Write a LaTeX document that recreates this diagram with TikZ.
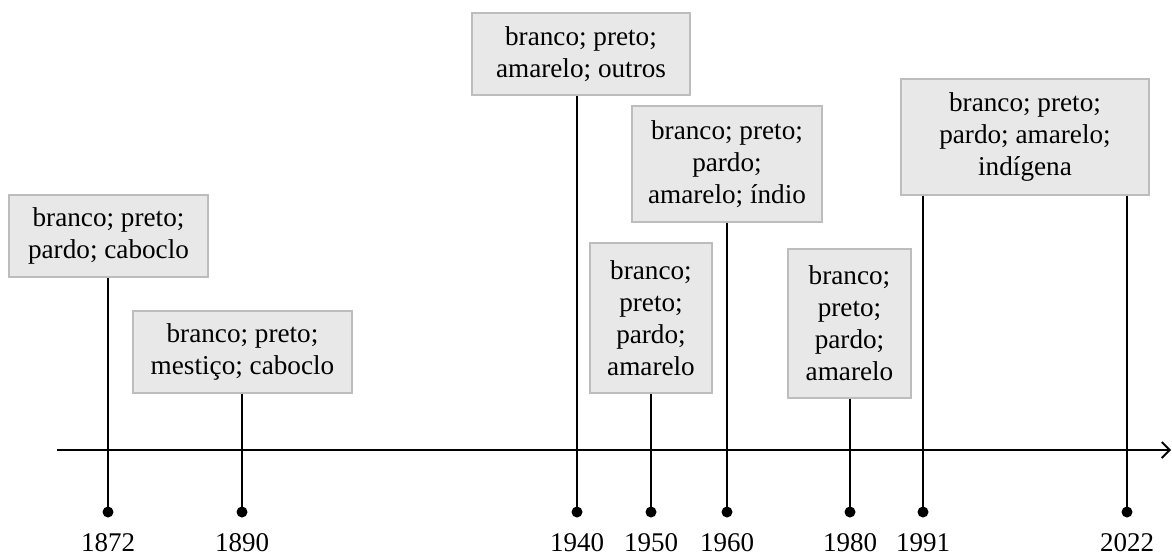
\documentclass[tikz,border=0pt]{standalone}
\usepackage{fontspec}
\setmainfont{Liberation Serif}
\usetikzlibrary{arrows.meta}
\definecolor{boxfill}{HTML}{E8E8E8}
\definecolor{boxline}{HTML}{BDBDBD}
\begin{document}
\begin{tikzpicture}[x=0.5pt,y=-0.5pt,
  catbox/.style={draw=boxline,fill=boxfill,line width=0.6pt,inner sep=0pt,
    align=center,font=\fontsize{13.6}{16}\selectfont},
  stem/.style={line width=1.4pt},
  axisline/.style={line width=1.4pt,-{Straight Barb[length=4pt,width=8pt,line width=0.9pt]}},
  yeardot/.style={circle,fill=black,inner sep=0pt,minimum size=5.5pt},
  yearlbl/.style={anchor=base,font=\fontsize{13.5}{16}\selectfont,inner sep=0pt}]
\useasboundingbox (0,0) rectangle (1172,554);
% boxes
\node[catbox,minimum width=99.5pt,minimum height=41pt] (A) at (108.5,236) {branco; preto;\\pardo; caboclo};
\node[catbox,minimum width=109.5pt,minimum height=41pt] (B) at (242.5,352) {branco; preto;\\mestiço; caboclo};
\node[catbox,minimum width=109pt,minimum height=41pt] (C) at (581,54) {branco; preto;\\amarelo; outros};
\node[catbox,minimum width=61pt,minimum height=75pt] (D) at (651,318) {branco;\\preto;\\pardo;\\amarelo};
\node[catbox,minimum width=95pt,minimum height=58pt] (E) at (727,164) {branco; preto;\\pardo;\\amarelo; índio};
\node[catbox,minimum width=61.5pt,minimum height=74.5pt] (F) at (849.5,323.5) {branco;\\preto;\\pardo;\\amarelo};
\node[catbox,minimum width=124pt,minimum height=58pt] (G) at (1025,137) {branco; preto;\\pardo; amarelo;\\indígena};
% axis
\coordinate (ax0) at (57,450);
\coordinate (ax1) at (1171,450);
\draw[axisline] (ax0) -- (ax1);
% dots
\node[yeardot] (d1) at (108,512) {};
\node[yeardot] (d2) at (242,512) {};
\node[yeardot] (d3) at (577,512) {};
\node[yeardot] (d4) at (651,512) {};
\node[yeardot] (d5) at (727,512) {};
\node[yeardot] (d6) at (850,512) {};
\node[yeardot] (d7) at (923,512) {};
\node[yeardot] (d8) at (1127,512) {};
% stems
\draw[stem] (A.south -| d1) -- (d1.center);
\draw[stem] (B.south -| d2) -- (d2.center);
\draw[stem] (C.south -| d3) -- (d3.center);
\draw[stem] (D.south -| d4) -- (d4.center);
\draw[stem] (E.south -| d5) -- (d5.center);
\draw[stem] (F.south -| d6) -- (d6.center);
\draw[stem] (G.south -| d7) -- (d7.center);
\draw[stem] (G.south -| d8) -- (d8.center);
% years
\node[yearlbl] (y1) at (108,551) {1872};
\node[yearlbl] (y2) at (242,551) {1890};
\node[yearlbl] (y3) at (577,551) {1940};
\node[yearlbl] (y4) at (651,551) {1950};
\node[yearlbl] (y5) at (727,551) {1960};
\node[yearlbl] (y6) at (850,551) {1980};
\node[yearlbl] (y7) at (923,551) {1991};
\node[yearlbl] (y8) at (1127,551) {2022};
\end{tikzpicture}
\end{document}
